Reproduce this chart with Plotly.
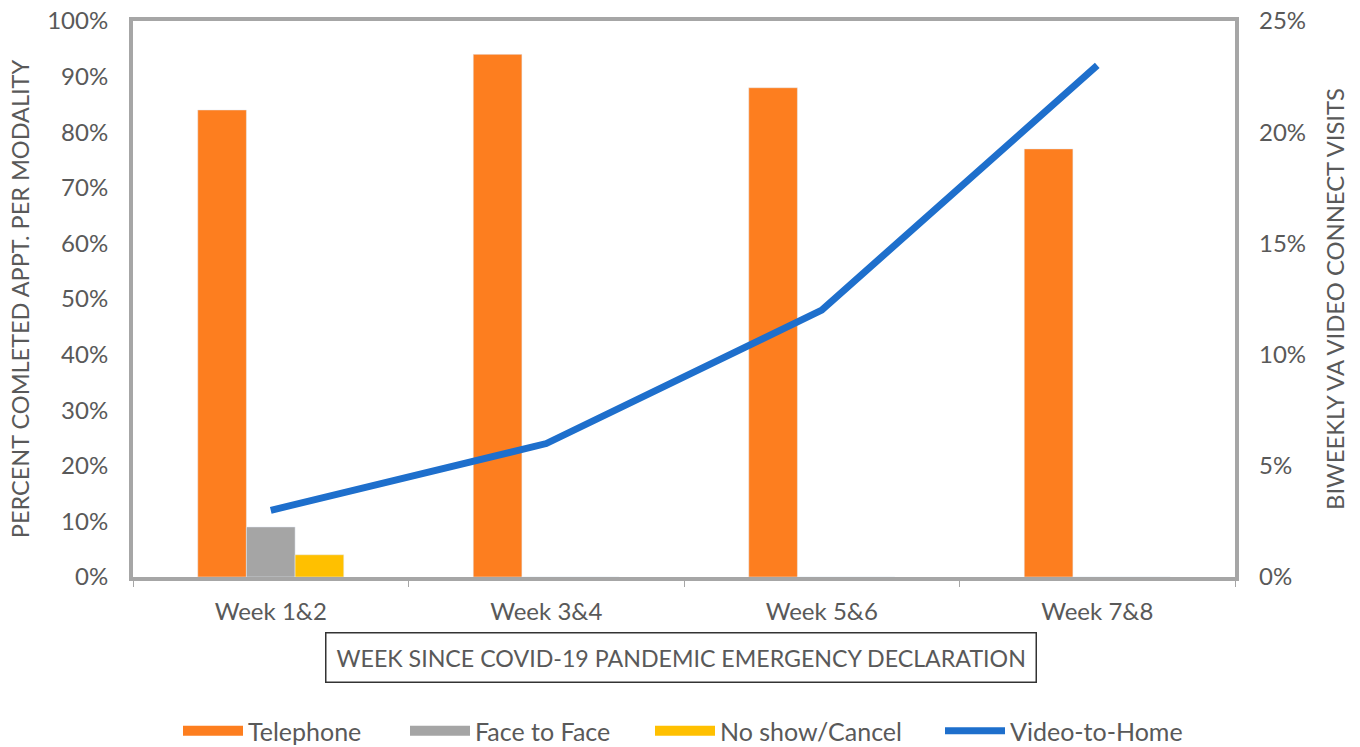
import plotly.graph_objects as go

weeks = ["Week 1&2", "Week 3&4", "Week 5&6", "Week 7&8"]
telephone = [0.84, 0.94, 0.88, 0.77]
face_to_face = [0.09, 0, 0, 0]
no_show = [0.04, 0, 0, 0]
video_to_home = [0.03, 0.06, 0.12, 0.23]

legend_names = ["Telephone", "Face to Face", "No show/Cancel", "Video-to-Home"]

FONT = "Lato"
TXT = "#595959"
AX = "#a6a6a6"
C_TEL, C_F2F, C_NS, C_VID = "#fd7e1f", "#a5a5a5", "#ffc000", "#1e6fcc"
W, H = 1360, 747

fig = go.Figure()
fig.add_bar(x=weeks, y=telephone, name="Telephone", marker_color=C_TEL, showlegend=False)
fig.add_bar(x=weeks, y=face_to_face, name="Face to Face", marker_color=C_F2F, showlegend=False)
fig.add_bar(x=weeks, y=no_show, name="No show/Cancel", marker_color=C_NS, showlegend=False)
fig.add_scatter(x=weeks, y=video_to_home, name="Video-to-Home", yaxis="y2",
                mode="lines", line=dict(color=C_VID, width=7), showlegend=False)

# legend entries (wide swatches like the original), one legend each for exact placement
swatch_left = [183, 410, 655, 945]
legend_ids = ["legend", "legend2", "legend3", "legend4"]
legend_layout = {}
for name, col, w, lid, sx in zip(legend_names, [C_TEL, C_F2F, C_NS, C_VID],
                                 [15, 15, 15, 7], legend_ids, swatch_left):
    fig.add_scatter(x=[weeks[0]], y=[None], name=name, mode="lines", legend=lid,
                    line=dict(color=col, width=w), showlegend=True, hoverinfo="skip")
    legend_layout[lid] = dict(orientation="h", xref="container", yref="container",
                              x=(sx - 5) / W, xanchor="left",
                              y=1 - 731 / H, yanchor="middle",
                              font=dict(size=25, color=TXT), itemwidth=60,
                              bgcolor="rgba(0,0,0,0)")

fig.update_layout(
    width=W, height=H,
    margin=dict(l=133, r=125, t=21, b=170),
    paper_bgcolor="white", plot_bgcolor="white",
    font=dict(family=FONT, size=24, color=TXT),
    barmode="group", bargap=0.47, bargroupgap=0,
    showlegend=True,
    xaxis=dict(showline=True, linecolor=AX, linewidth=4, mirror=True, automargin=False,
               ticks="outside", tickson="boundaries", ticklen=6, tickcolor=AX,
               ticklabelstandoff=10,
               showgrid=False, tickfont=dict(size=24, color=TXT)),
    yaxis=dict(range=[0, 1], dtick=0.1, tickformat=".0%", showgrid=False, automargin=False,
               showline=True, linecolor=AX, linewidth=4, mirror=True,
               zeroline=False, ticks="", tickfont=dict(size=24, color=TXT),
               ticklabelstandoff=16,
               title=dict(text="PERCENT COMLETED APPT. PER MODALITY",
                          font=dict(size=23.5, color=TXT), standoff=12)),
    yaxis2=dict(range=[0, 0.25], dtick=0.05, tickformat=".0%", overlaying="y",
                side="right", showgrid=False, zeroline=False, showline=False,
                automargin=False, ticklabelstandoff=23,
                tickfont=dict(size=24, color=TXT),
                title=dict(text="BIWEEKLY VA VIDEO CONNECT VISITS",
                           font=dict(size=23.8, color=TXT), standoff=22)),
    annotations=[dict(text="WEEK SINCE COVID-19 PANDEMIC EMERGENCY DECLARATION",
                      xref="paper", yref="paper", x=0.497, y=-0.144,
                      xanchor="center", yanchor="middle", showarrow=False,
                      font=dict(size=23.2, color=TXT), bordercolor="#333333",
                      borderwidth=1.5, borderpad=10, bgcolor="white")],
    **legend_layout,
)

fig.write_html("out.html", config={"displayModeBar": False},
               post_script="document.body.style.margin='0';")
